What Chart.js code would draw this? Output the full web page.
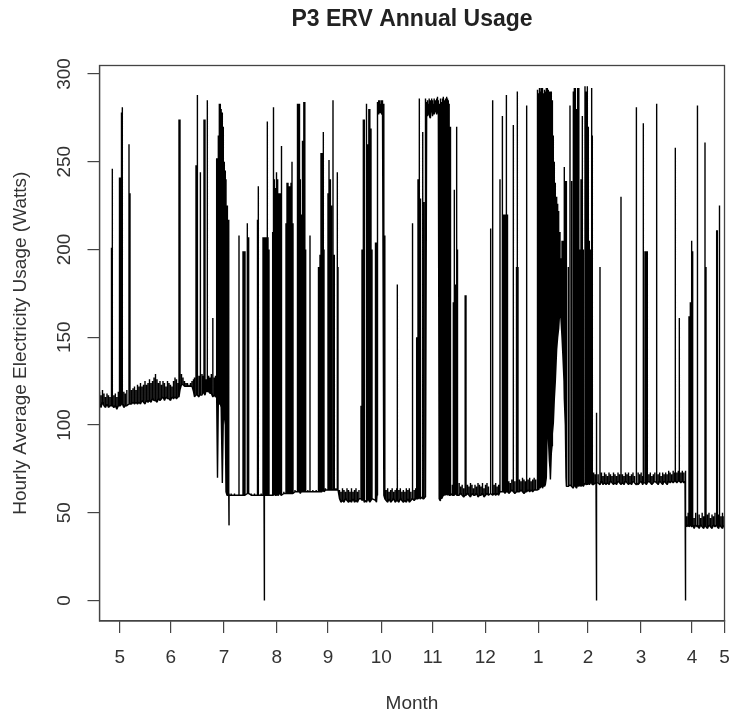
<!DOCTYPE html>
<html>
<head>
<meta charset="utf-8">
<title>P3 ERV Annual Usage</title>
<script src="https://cdn.jsdelivr.net/npm/chart.js@4"></script>
<style>
  html, body { margin: 0; padding: 0; background: #fff; }
  /* the source is a soft, scanned looking image */
  canvas { display: block; filter: blur(0.7px); }
</style>
</head>
<body>
<canvas id="usage" width="733" height="719"></canvas>
<script>
// axis ticks, x is days since the start of the record
var monthDays = [12.1, 42.7, 74.7, 106.3, 137.1, 169.1, 199.9, 231.5, 263.3, 293.1, 324.9, 355.5, 375];
var monthLabels = ["5", "6", "7", "8", "9", "10", "11", "12", "1", "2", "3", "4", "5"];
var wattTicks = [0, 50, 100, 150, 200, 250, 300];

// each reading: day, lowest and highest watts seen at that day
var mayDays = [0,0.9,1.8,2.7,3.6,4.5,5.4,6.3,7.2,7.7,8.6,9.5,10.4,11.3,12,12.6,13.2,13.7,14.6,15.5,16.4,17.7,18.3,19.2];
var mayLows = [112,110,113,111,110,112,110,111,111,111,110,111,109,111,111,111,112,112,110,111,111,112,112,112];
var mayHighs = [119,117,120,118,116,118,117,116,201,246,117,118,116,119,241,241,278,281,119,118,120,260,232,120];

var lateMayDays = [20.1,21,21.9,22.8,23.7,24.6,25.5,26.4,27.3,28.2,29.1,30,30.9,31.8,32.7,33.6,34.5,35.4,36.3,37.2,38.1,39,39.9,40.8,41.7,42.6,43.5,44.4,45.3,46.2,47.1];
var lateMayLows = [113,112,113,112,113,112,114,113,112,114,113,114,113,115,114,114,113,115,114,115,116,114,116,115,115,114,116,115,116,115,116];
var lateMayHighs = [121,122,120,123,122,124,122,123,125,123,124,126,124,125,127,129,126,124,125,123,125,124,122,125,124,123,122,125,127,126,124];

var juneDays = [47.7,48.3,49.2,50.1,51,51.9,52.8,53.7,54.6,55.5,56.4,57,57.9,58.5,58.9,59.7,60.3,60.7,61.5,62.1,62.7,63.3,64.1,64.7,65.5,66.3,67.1,68,68.9,69.6];
var juneLows = [116,120,123,123,122,122,122,122,122,122,119,116,117,118,117,116,118,117,117,119,118,117,120,119,119,118,118,116,117,116];
var juneHighs = [274,274,129,127,125,124,124,123,124,125,126,127,248,248,288,128,127,244,129,128,274,274,126,285,128,127,129,161,127,128];

var dropDays = [70.3,70.8,71.3,71.9,72.5,73,73.7,74.3,74.9,75.5,75.9,76.5,76.9,77.4,77.65,77.7,77.75];
var dropLows = [116,70,114,112,112,110,67,105,105,100,62,60,60,60,60,43,60];
var dropHighs = [252,252,265,283,283,280,278,270,250,245,240,225,217,217,61,61,61];

var julyDays = [79,81,83.7,86.1,86.7,87.3,88.7,89.5,91,93,94.8,95.3,97,98.1,98.7,98.95,99,99.05,99.3,99.9,100.3,100.7,101.1,101.7];
var julyLows = [60,60,60,60,60,60,61,61,60,60,60,60,60,60,60,60,0,60,60,60,60,60,60,60];
var julyHighs = [61,61,208,199,199,199,215,207,61,61,217,236,61,207,207,61,61,61,207,207,207,273,207,200];

var augDays = [103.9,104.4,104.9,105.4,105.9,106.4,106.9,107.4,107.9,108.4,108.9,109.4,110.6,111.9,112.5,113.1,113.7,114.3,114.9,115.5,116.1,117.3,118.5,119,119.5,120,120.5,121,121.5,122,122.6,123.2,123.7,125,126.3];
var augLows = [60,60,61,60,60,61,60,60,61,61,60,60,61,61,61,61,61,61,61,61,61,62,62,62,62,62,61,62,62,62,62,62,62,62,62];
var augHighs = [210,281,240,235,240,244,240,232,232,232,259,232,62,215,238,238,236,236,238,250,215,63,213,283,283,283,240,220,236,262,284,284,200,63,208];

var sepDays = [128,130,131.4,131.8,132.3,132.9,133.5,134.3,134.7,135.6,137.1,137.7,138.3,138.7,139.2,140.1,140.9,141.8,142.7,143.1];
var sepLows = [62,62,62,62,62,62,62,63,62,63,63,63,63,63,63,63,63,63,63,63];
var sepHighs = [63,63,190,190,197,255,255,267,200,64,232,251,232,240,225,285,197,64,244,190];

var lateSepDays = [144,144.9,145.8,146.7,147.6,148.5,149.4,150.3,151.2,152.1,153,153.9,154.8,155.7,156.9,157.5,158.3,158.9,159.9,160.4,161,161.6,162.2,162.9,163.5,165.6,166.2,166.5];
var lateSepLows = [58,56,57,56,58,57,56,57,56,58,56,57,56,58,58,57,58,56,57,56,58,57,56,57,58,57,56,60];
var lateSepHighs = [63,62,64,63,62,64,63,62,64,62,63,64,62,63,111,200,274,274,283,283,260,280,280,269,200,204,204,283];

var octTopDays = [167,167.5,168,168.5,169,169.5,170,170.6,171.2];
var octTopLows = [279,277,279,278,278,277,280,60,58];
var octTopHighs = [284,285,285,283,285,285,284,283,208];

var octDays = [172,172.9,173.8,174.7,175.6,176.5,177.4,178.3,178.7,179.6,180.5,181.4,182.3,183.2,184.1,185,185.9,186.8,187.7,187.9,188.8,189.7,190.3,191.1,191.9,192.3,192.8,193.7,194.1,194.7,195.3,195.8];
var octLows = [57,56,58,56,57,58,56,57,57,56,58,57,56,57,56,58,56,57,58,58,57,58,58,58,59,58,58,59,58,58,59,60];
var octHighs = [63,64,62,63,64,62,63,64,180,63,64,62,63,62,64,63,64,62,63,215,63,64,150,240,286,229,229,267,225,227,227,286];

var novTopDays = [196.3,196.8,197.3,197.8,198.3,198.8,199.3,199.8,200.3,200.8,201.3,201.8,202.3,202.8,203.3];
var novTopLows = [278,276,279,277,275,278,280,276,279,277,279,281,277,280,278];
var novTopHighs = [284,285,283,286,285,284,286,285,283,286,285,284,286,287,285];

var novDays = [203.8,204.3,204.8,205.3,205.8,206.3,206.8,207.3,207.8,208.3,208.8,209.3,209.8,210.3,210.8];
var novLows = [58,57,60,58,59,60,60,61,60,61,60,61,60,60,61];
var novHighs = [283,285,286,284,286,287,285,286,284,287,286,285,283,270,250];

var decDays = [211.7,212.3,212.9,213.5,214.3,214.8,215.8,216.7,217.6,218.5,219.4,219.9,220.8,221.7,222.6,223.5,224.4,225.3,226.2,227.1,228,228.9,229.8,230.7,231.6,232.5,233.4,234.7,235.9,236.8,237.7,238.6,239.5];
var decLows = [60,60,60,61,60,60,60,61,60,59,60,60,61,60,59,61,60,60,61,59,60,60,61,59,60,61,60,61,60,61,60,61,60];
var decHighs = [66,170,234,180,270,200,67,65,66,64,174,174,66,65,67,66,64,66,65,67,66,65,67,64,66,67,65,212,285,66,67,65,66];

var lateDecDays = [240.3,241.5,241.9,242.5,243.3,243.9,244.3,244.8,245.6,246.5,247.4,248.3,249.2,250.2,250.7,251.1,252,252.9,253.8,254.7,255.6,256.3,257.2,258.1,259,259.9,260.8,261.7];
var lateDecLows = [62,62,62,62,61,62,62,62,61,62,63,62,61,62,62,62,62,63,62,61,62,62,63,62,63,62,63,63];
var lateDecHighs = [240,220,276,220,220,220,288,220,68,67,69,271,68,190,290,190,69,68,70,69,68,282,69,70,68,69,70,69];

var janDays = [262.5,263,263.5,264,264.5,265,265.5,266,266.5,267,267.5,268.1];
var janLows = [63,64,63,65,64,66,65,64,66,65,66,70];
var janHighs = [288,291,289,292,290,292,291,292,289,291,290,292];

var wedgeDays = [268.7,269.3,269.9,270.3,270.7,271.1,271.5,271.9,272.3,272.9,273.5,274.3,274.9,275.5,276.3,276.9,277.5,278.1,278.7,279,279.5,279.9,280.3];
var wedgeLows = [103,93,80,75,69,84,88,95,101,115,125,143,150,155,167,160,150,138,125,115,100,70,65];
var wedgeHighs = [292,291,290,290,290,290,285,275,265,250,238,230,226,222,210,195,205,205,240,247,239,239,200];

var febDays = [281.3,282.3,283.3,284.3,284.9,285.5,286.2,286.9,287.6,288.3,288.9,289.7,290.3,291.3,291.9,292.3,292.7,293.3,293.9,294.5,295.3,295.7];
var febLows = [65,66,65,64,66,65,64,66,65,66,65,66,65,67,66,67,66,67,66,67,67,66];
var febHighs = [190,282,239,290,292,292,280,292,292,200,240,276,200,293,200,290,293,270,205,200,292,265];

var marDays = [296.5,297.4,297.9,298.25,298.3,298.35,299.2,300.3,301.2,302.1,303,303.9,304.8,305.7,306.6,307.5,308.4,309.3,310.2,311.1,312,312.9,313.8,314.7,315.6,316.5,317.4,318.3,319.2,320.1,321,321.9,322.3,323.2,324.1,325,325.9,326.3,327.3,328.1,328.7,329.6,330.5,331.4,332.3,333.2,334.3,335.2,336.1,337,337.9,338.8,339.7,340.6,341.5,342.4,343.3,344.2,345.1,345.5,346.4,347.3,347.9,348.8,349.7,350.6,351.3,351.65,351.7,351.75];
var marLows = [66,67,67,67,0,67,67,66,68,66,67,66,67,66,68,67,66,67,66,68,67,66,67,66,68,67,66,67,66,68,67,66,67,66,67,68,66,67,67,66,67,68,67,66,67,68,67,66,68,67,66,68,67,66,68,67,68,67,68,68,67,68,68,67,68,67,68,68,0,44];
var marHighs = [73,72,107,70,70,70,72,190,73,71,73,72,71,73,72,71,73,72,71,73,72,230,72,71,73,72,73,71,72,73,71,72,281,73,72,73,71,272,199,199,199,72,73,71,72,73,283,72,73,71,73,72,73,72,74,73,72,74,73,258,73,74,161,73,74,73,74,72,72,72];

var aprDays = [352.3,353.2,353.7,354.5,355.3,355.9,356.8,357.7,358.6,358.9,359.8,360.7,361.6,362.5,363.3,363.9,364.8,365.7,366.6,367.5,368.4,369.3,370.3,370.7,371.5,372,372.9,373.8,374.7];
var aprLows = [42,43,42,43,42,43,41,43,42,43,41,43,42,41,43,42,41,43,42,41,43,42,43,42,41,43,42,41,43];
var aprHighs = [48,50,162,170,205,199,47,50,48,282,49,47,50,48,261,190,49,50,47,49,48,50,211,211,49,225,48,50,48];

var stretches = [
  [mayDays, mayLows, mayHighs],
  [lateMayDays, lateMayLows, lateMayHighs],
  [juneDays, juneLows, juneHighs],
  [dropDays, dropLows, dropHighs],
  [julyDays, julyLows, julyHighs],
  [augDays, augLows, augHighs],
  [sepDays, sepLows, sepHighs],
  [lateSepDays, lateSepLows, lateSepHighs],
  [octTopDays, octTopLows, octTopHighs],
  [octDays, octLows, octHighs],
  [novTopDays, novTopLows, novTopHighs],
  [novDays, novLows, novHighs],
  [decDays, decLows, decHighs],
  [lateDecDays, lateDecLows, lateDecHighs],
  [janDays, janLows, janHighs],
  [wedgeDays, wedgeLows, wedgeHighs],
  [febDays, febLows, febHighs],
  [marDays, marLows, marHighs],
  [aprDays, aprLows, aprHighs]
];

// one long line: along the low edge, up to the high and back at every reading
var points = [];
stretches.forEach(function(s) {
  for (var i = 0; i < s[0].length; i++) {
    points.push({x: s[0][i], y: s[1][i]});
    points.push({x: s[0][i], y: s[2][i]});
    points.push({x: s[0][i], y: s[1][i]});
  }
});

var textColor = "#333";
var axisColor = "#444";
var fontName = "'Liberation Sans', Arial, sans-serif";

// box round the plot, like R does
var plotBox = {
  id: "plotBox",
  afterDraw: function(chart) {
    var a = chart.chartArea;
    var ctx = chart.ctx;
    ctx.save();
    ctx.strokeStyle = axisColor;
    ctx.lineWidth = 1.3;
    ctx.strokeRect(a.left, a.top, a.right - a.left, a.bottom - a.top);
    ctx.restore();
  }
};

new Chart(document.getElementById("usage"), {
  type: "line",
  data: {
    datasets: [{
      label: "Hourly usage",
      data: points,
      borderColor: "#000",
      borderWidth: 1.4,
      borderJoinStyle: "bevel",
      pointRadius: 0,
      tension: 0
    }]
  },
  options: {
    responsive: false,
    animation: false,
    layout: { padding: { right: 8.5 } },
    plugins: {
      legend: { display: false },
      tooltip: { enabled: false },
      title: {
        display: true,
        text: "P3 ERV Annual Usage",
        fullSize: false,
        color: "#222",
        font: { family: fontName, size: 23, weight: "bold", lineHeight: 1.2 },
        padding: { top: 5.4, bottom: 32.5 }
      }
    },
    scales: {
      x: {
        type: "linear",
        min: 0,
        max: 375,
        afterFit: function(scale) {
          scale.height = 98;
          scale.paddingRight = 0;
          scale.paddingLeft = 0;
        },
        afterBuildTicks: function(scale) {
          scale.ticks = monthDays.map(function(d) { return {value: d}; });
        },
        grid: { drawOnChartArea: false, tickLength: 12, color: axisColor, lineWidth: 1.2 },
        border: { color: axisColor, width: 1.2 },
        ticks: {
          autoSkip: false,
          maxRotation: 0,
          padding: 13,
          color: textColor,
          font: { family: fontName, size: 19 },
          callback: function(v, i) { return monthLabels[i]; }
        },
        title: {
          display: true,
          text: "Month",
          color: textColor,
          font: { family: fontName, size: 19, lineHeight: 1.2 },
          padding: { top: 0, bottom: 4 }
        }
      },
      y: {
        min: -11.68,
        max: 304.84,
        afterFit: function(scale) {
          scale.width = 99.5;
          scale.paddingTop = 0;
          scale.paddingBottom = 0;
        },
        afterBuildTicks: function(scale) {
          scale.ticks = wattTicks.map(function(w) { return {value: w}; });
        },
        grid: { drawOnChartArea: false, tickLength: 12, color: axisColor, lineWidth: 1.2 },
        border: { color: axisColor, width: 1.2 },
        ticks: {
          minRotation: 90,
          maxRotation: 90,
          crossAlign: "center",
          padding: 7,
          color: textColor,
          font: { family: fontName, size: 19 }
        },
        title: {
          display: true,
          text: "Hourly Average Electricity Usage (Watts)",
          color: textColor,
          font: { family: fontName, size: 19, lineHeight: 1.2 },
          padding: { top: 9, bottom: 0 }
        }
      }
    }
  },
  plugins: [plotBox]
});
</script>
</body>
</html>
